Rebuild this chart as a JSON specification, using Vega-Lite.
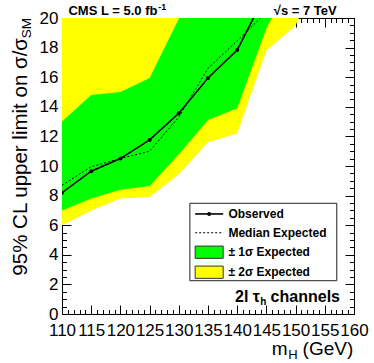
{
  "$schema": "https://vega.github.io/schema/vega-lite/v6.json",
  "width": 292,
  "height": 296,
  "autosize": {"type": "none"},
  "padding": {"left": 62, "top": 18, "right": 20, "bottom": 49},
  "background": "white",
  "config": {
    "view": {"stroke": null},
    "font": "Liberation Sans",
    "axis": {"grid": false, "zindex": 1, "title": null, "labelFont": "Liberation Sans", "labelFontSize": 17, "labelColor": "black", "domainColor": "black", "tickColor": "black", "domainWidth": 1, "tickWidth": 1, "labelOverlap": false, "labelFlush": false, "labelBound": false}
  },
  "datasets": {
    "lim": [
      {"m": 110, "m2": 6.0, "m1": 7.0, "p1": 13.0, "p2": 21, "obs": 8.2, "exp": 8.7},
      {"m": 115, "m2": 7.0, "m1": 7.8, "p1": 14.8, "p2": 24, "obs": 9.65, "exp": 9.95},
      {"m": 120, "m2": 7.8, "m1": 8.4, "p1": 15.0, "p2": 25, "obs": 10.5, "exp": 10.5},
      {"m": 125, "m2": 7.9, "m1": 8.65, "p1": 15.95, "p2": 27, "obs": 11.76, "exp": 11.0},
      {"m": 130, "m2": 9.45, "m1": 10.8, "p1": 19.95, "p2": 33, "obs": 13.56, "exp": 13.3},
      {"m": 135, "m2": 11.6, "m1": 13.1, "p1": 24, "p2": 38, "obs": 15.95, "exp": 16.6},
      {"m": 140, "m2": 12.2, "m1": 13.9, "p1": 27, "p2": 42, "obs": 17.84, "exp": 18.45},
      {"m": 145, "m2": 17.8, "m1": 19.3, "p1": 33, "p2": 50, "obs": 21.7, "exp": 20.4},
      {"m": 150, "m2": 19.5, "m1": 23, "p1": 38, "p2": 55},
      {"m": 155, "m2": 24, "m1": 28, "p1": 42, "p2": 60},
      {"m": 160, "m2": 28, "m1": 32, "p1": 46, "p2": 65}
    ]
  },
  "data": {"name": "lim"},
  "resolve": {"axis": {"x": "independent", "y": "independent"}},
  "layer": [
    {
      "mark": {"type": "area", "color": "#ffff00", "clip": true, "opacity": 1},
      "encoding": {
        "x": {"field": "m", "type": "quantitative", "scale": {"domain": [110, 160], "nice": false, "zero": false},
          "axis": {"orient": "bottom", "values": [110,115,120,125,130,135,140,145,150,155,160], "ticks": false, "labels": true, "domain": true, "labelPadding": 8, "format": "d"}},
        "y": {"field": "m2", "type": "quantitative", "scale": {"domain": [0, 20], "nice": false, "zero": false},
          "axis": {"orient": "left", "values": [0,2,4,6,8,10,12,14,16,18,20], "ticks": false, "labels": true, "domain": true, "labelPadding": 4, "format": "d"}},
        "y2": {"field": "p2"}
      }
    },
    {
      "mark": {"type": "area", "color": "#00ff00", "clip": true, "opacity": 1},
      "encoding": {
        "x": {"field": "m", "type": "quantitative", "scale": {"domain": [110, 160], "nice": false, "zero": false},
          "axis": {"orient": "bottom", "values": [110,115,120,125,130,135,140,145,150,155,160], "tickSize": -9, "labels": false, "domain": false}},
        "y": {"field": "m1", "type": "quantitative", "scale": {"domain": [0, 20], "nice": false, "zero": false},
          "axis": {"orient": "left", "values": [0,2,4,6,8,10,12,14,16,18,20], "tickSize": -9, "labels": false, "domain": false}},
        "y2": {"field": "p1"}
      }
    },
    {
      "mark": {"type": "line", "color": "black", "strokeWidth": 1, "strokeDash": [2, 2], "clip": true},
      "encoding": {
        "x": {"field": "m", "type": "quantitative", "scale": {"domain": [110, 160], "nice": false, "zero": false},
          "axis": {"orient": "bottom", "values": [110,111,112,113,114,115,116,117,118,119,120,121,122,123,124,125,126,127,128,129,130,131,132,133,134,135,136,137,138,139,140,141,142,143,144,145,146,147,148,149,150,151,152,153,154,155,156,157,158,159,160], "tickSize": -4.5, "labels": false, "domain": false}},
        "y": {"field": "exp", "type": "quantitative", "scale": {"domain": [0, 20], "nice": false, "zero": false},
          "axis": {"orient": "left", "values": [0,0.5,1,1.5,2,2.5,3,3.5,4,4.5,5,5.5,6,6.5,7,7.5,8,8.5,9,9.5,10,10.5,11,11.5,12,12.5,13,13.5,14,14.5,15,15.5,16,16.5,17,17.5,18,18.5,19,19.5,20], "tickSize": -4.5, "labels": false, "domain": false}}
      }
    },
    {
      "mark": {"type": "line", "color": "black", "strokeWidth": 1.6, "clip": true},
      "encoding": {
        "x": {"field": "m", "type": "quantitative", "scale": {"domain": [110, 160], "nice": false, "zero": false},
          "axis": {"orient": "top", "values": [110,115,120,125,130,135,140,145,150,155,160], "tickSize": -9, "labels": false, "domain": true}},
        "y": {"field": "obs", "type": "quantitative", "scale": {"domain": [0, 20], "nice": false, "zero": false},
          "axis": {"orient": "right", "values": [0,2,4,6,8,10,12,14,16,18,20], "tickSize": -9, "labels": false, "domain": true}}
      }
    },
    {
      "mark": {"type": "point", "filled": true, "color": "black", "size": 16, "opacity": 1, "clip": true},
      "encoding": {
        "x": {"field": "m", "type": "quantitative", "scale": {"domain": [110, 160], "nice": false, "zero": false},
          "axis": {"orient": "top", "values": [110,111,112,113,114,115,116,117,118,119,120,121,122,123,124,125,126,127,128,129,130,131,132,133,134,135,136,137,138,139,140,141,142,143,144,145,146,147,148,149,150,151,152,153,154,155,156,157,158,159,160], "tickSize": -4.5, "labels": false, "domain": false}},
        "y": {"field": "obs", "type": "quantitative", "scale": {"domain": [0, 20], "nice": false, "zero": false},
          "axis": {"orient": "right", "values": [0,0.5,1,1.5,2,2.5,3,3.5,4,4.5,5,5.5,6,6.5,7,7.5,8,8.5,9,9.5,10,10.5,11,11.5,12,12.5,13,13.5,14,14.5,15,15.5,16,16.5,17,17.5,18,18.5,19,19.5,20], "tickSize": -4.5, "labels": false, "domain": false}}
      }
    },
    {
      "data": {"values": [{}]},
      "mark": {"type": "rect", "fill": "white", "stroke": "#222222", "strokeWidth": 1},
      "encoding": {
        "x": {"datum": 131.9, "type": "quantitative", "axis": null},
        "x2": {"datum": 157.05},
        "y": {"datum": 7.48, "type": "quantitative", "axis": null},
        "y2": {"datum": 2.25}
      }
    },
    {
      "data": {"values": [{}]},
      "mark": {"type": "rule", "color": "black", "strokeWidth": 1.6},
      "encoding": {
        "x": {"datum": 132.8, "type": "quantitative", "axis": null},
        "x2": {"datum": 137.6},
        "y": {"datum": 6.76, "type": "quantitative", "axis": null}
      }
    },
    {
      "data": {"values": [{}]},
      "mark": {"type": "point", "filled": true, "color": "black", "size": 16, "opacity": 1},
      "encoding": {
        "x": {"datum": 135.2, "type": "quantitative", "axis": null},
        "y": {"datum": 6.76, "type": "quantitative", "axis": null}
      }
    },
    {
      "data": {"values": [{}]},
      "mark": {"type": "rule", "color": "black", "strokeWidth": 1, "strokeDash": [2, 2]},
      "encoding": {
        "x": {"datum": 132.8, "type": "quantitative", "axis": null},
        "x2": {"datum": 137.6},
        "y": {"datum": 5.49, "type": "quantitative", "axis": null}
      }
    },
    {
      "data": {"values": [{}]},
      "mark": {"type": "rect", "fill": "#00ff00", "stroke": "#333333", "strokeWidth": 1},
      "encoding": {
        "x": {"datum": 132.8, "type": "quantitative", "axis": null},
        "x2": {"datum": 137.6},
        "y": {"datum": 4.59, "type": "quantitative", "axis": null},
        "y2": {"datum": 3.76}
      }
    },
    {
      "data": {"values": [{}]},
      "mark": {"type": "rect", "fill": "#ffff00", "stroke": "#333333", "strokeWidth": 1},
      "encoding": {
        "x": {"datum": 132.8, "type": "quantitative", "axis": null},
        "x2": {"datum": 137.6},
        "y": {"datum": 3.24, "type": "quantitative", "axis": null},
        "y2": {"datum": 2.41}
      }
    },
    {
      "data": {"values": [{"t": "Observed", "r": 6.76}, {"t": "Median Expected", "r": 5.49}, {"t": "± 1σ Expected", "r": 4.17}, {"t": "± 2σ Expected", "r": 2.86}]},
      "mark": {"type": "text", "align": "left", "baseline": "middle", "fontSize": 12, "fontWeight": "bold", "color": "black"},
      "encoding": {
        "x": {"datum": 138.5, "type": "quantitative", "axis": null},
        "y": {"field": "r", "type": "quantitative", "axis": null},
        "text": {"field": "t"}
      }
    },
    {
      "data": {"values": [{}]},
      "mark": {"type": "text", "align": "right", "baseline": "alphabetic", "fontSize": 16, "fontWeight": "bold", "color": "black"},
      "encoding": {
        "x": {"datum": 157.6, "type": "quantitative", "axis": null},
        "y": {"datum": 0.83, "type": "quantitative", "axis": null},
        "text": {"value": "channels"}
      }
    },
    {
      "data": {"values": [{}]},
      "mark": {"type": "text", "align": "right", "baseline": "alphabetic", "fontSize": 16, "fontWeight": "bold", "color": "black"},
      "encoding": {
        "x": {"datum": 143.9, "type": "quantitative", "axis": null},
        "y": {"datum": 0.83, "type": "quantitative", "axis": null},
        "text": {"value": "2l τ"}
      }
    },
    {
      "data": {"values": [{}]},
      "mark": {"type": "text", "align": "left", "baseline": "alphabetic", "fontSize": 10, "fontWeight": "bold", "color": "black"},
      "encoding": {
        "x": {"datum": 143.95, "type": "quantitative", "axis": null},
        "y": {"datum": 0.6, "type": "quantitative", "axis": null},
        "text": {"value": "h"}
      }
    },
    {
      "data": {"values": [{}]},
      "mark": {"type": "text", "align": "left", "baseline": "alphabetic", "fontSize": 13, "fontWeight": "bold", "color": "black"},
      "encoding": {
        "x": {"datum": 111.1, "type": "quantitative", "axis": null},
        "y": {"datum": 20.2, "type": "quantitative", "axis": null},
        "text": {"value": "CMS L = 5.0 fb"}
      }
    },
    {
      "data": {"values": [{}]},
      "mark": {"type": "text", "align": "left", "baseline": "alphabetic", "fontSize": 9, "fontWeight": "bold", "color": "black"},
      "encoding": {
        "x": {"datum": 126.5, "type": "quantitative", "axis": null},
        "y": {"datum": 20.57, "type": "quantitative", "axis": null},
        "text": {"value": "-1"}
      }
    },
    {
      "data": {"values": [{}]},
      "mark": {"type": "text", "align": "right", "baseline": "alphabetic", "fontSize": 13, "fontWeight": "bold", "color": "black"},
      "encoding": {
        "x": {"datum": 157.03, "type": "quantitative", "axis": null},
        "y": {"datum": 20.2, "type": "quantitative", "axis": null},
        "text": {"value": "√s = 7 TeV"}
      }
    },
    {
      "data": {"values": [{}]},
      "mark": {"type": "text", "align": "left", "baseline": "alphabetic", "fontSize": 19, "color": "black"},
      "encoding": {
        "x": {"datum": 145.9, "type": "quantitative", "axis": null},
        "y": {"datum": -2.77, "type": "quantitative", "axis": null},
        "text": {"value": "m"}
      }
    },
    {
      "data": {"values": [{}]},
      "mark": {"type": "text", "align": "left", "baseline": "alphabetic", "fontSize": 13, "color": "black"},
      "encoding": {
        "x": {"datum": 148.75, "type": "quantitative", "axis": null},
        "y": {"datum": -3.04, "type": "quantitative", "axis": null},
        "text": {"value": "H"}
      }
    },
    {
      "data": {"values": [{}]},
      "mark": {"type": "text", "align": "right", "baseline": "alphabetic", "fontSize": 19, "color": "black"},
      "encoding": {
        "x": {"datum": 159.88, "type": "quantitative", "axis": null},
        "y": {"datum": -2.77, "type": "quantitative", "axis": null},
        "text": {"value": "(GeV)"}
      }
    },
    {
      "data": {"values": [{}]},
      "mark": {"type": "text", "align": "right", "baseline": "alphabetic", "fontSize": 20.5, "color": "black", "angle": 270, "dx": -20, "dy": -35},
      "encoding": {
        "x": {"datum": 110, "type": "quantitative", "axis": null},
        "y": {"datum": 20, "type": "quantitative", "axis": null},
        "text": {"value": "95% CL upper limit on σ/σ"}
      }
    },
    {
      "data": {"values": [{}]},
      "mark": {"type": "text", "align": "right", "baseline": "alphabetic", "fontSize": 13.5, "color": "black", "angle": 270, "dx": 0, "dy": -31},
      "encoding": {
        "x": {"datum": 110, "type": "quantitative", "axis": null},
        "y": {"datum": 20, "type": "quantitative", "axis": null},
        "text": {"value": "SM"}
      }
    }
  ]
}
